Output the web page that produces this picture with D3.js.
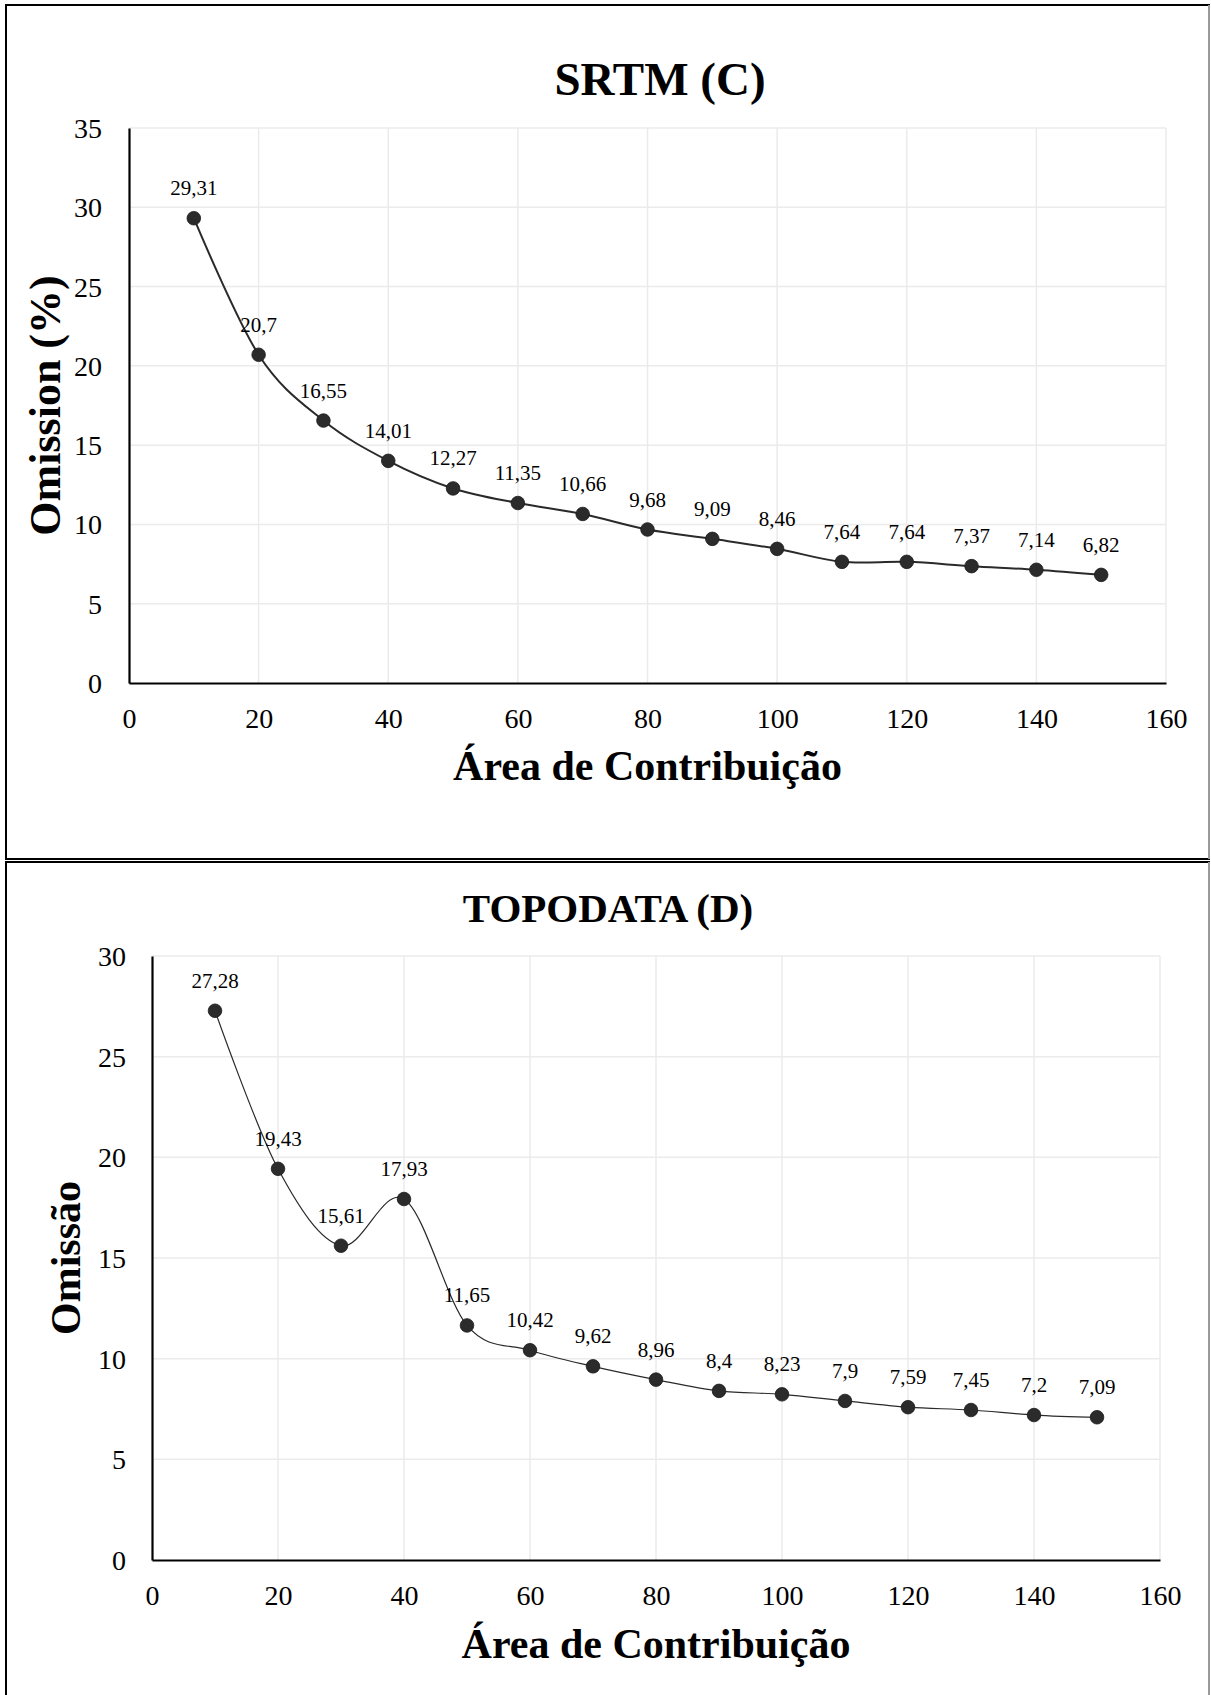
<!DOCTYPE html>
<html>
<head>
<meta charset="utf-8">
<script src="https://cdn.jsdelivr.net/npm/d3@7"></script>
<style>
  html, body { margin: 0; padding: 0; background: #fff; }
  svg { display: block; }
  text { font-family: "Liberation Serif", "Times New Roman", serif; fill: #000; }
</style>
</head>
<body>
<svg id="chart" width="1211" height="1695"></svg>
<script>
// ---- data ----
const areas = [10, 20, 30, 40, 50, 60, 70, 80, 90, 100, 110, 120, 130, 140, 150];
const srtmValues = [29.31, 20.7, 16.55, 14.01, 12.27, 11.35, 10.66, 9.68, 9.09, 8.46, 7.64, 7.64, 7.37, 7.14, 6.82];
const topodataValues = [27.28, 19.43, 15.61, 17.93, 11.65, 10.42, 9.62, 8.96, 8.4, 8.23, 7.9, 7.59, 7.45, 7.2, 7.09];
const xTicks = [0, 20, 40, 60, 80, 100, 120, 140, 160];
const yTicksSrtm = [0, 5, 10, 15, 20, 25, 30, 35];
const yTicksTopo = [0, 5, 10, 15, 20, 25, 30];
const titles = ["SRTM (C)", "TOPODATA (D)"];
const xTitle = "Área de Contribuição";
const yTitles = ["Omission (%)", "Omissão"];

const svg = d3.select("#chart");

// panel frames
function frame(x0, y0, x1, y1) {
  svg.append("rect").attr("x", x0).attr("y", y0).attr("width", x1 - x0).attr("height", y1 - y0)
    .attr("fill", "none").attr("stroke", "#000").attr("stroke-width", 2);
  svg.append("line").attr("x1", x1).attr("x2", x1).attr("y1", y0).attr("y2", y1)
    .attr("stroke", "#9a9a9a").attr("stroke-width", 2);
}
frame(6, 5, 1209, 859);
frame(6, 862, 1209, 1700);

function panel(cfg) {
  const x = d3.scaleLinear().domain([0, 160]).range([cfg.left, cfg.right]);
  const y = d3.scaleLinear().domain([0, cfg.yMax]).range([cfg.bottom, cfg.top]);
  const g = svg.append("g");

  // gridlines
  g.append("g").selectAll("line").data(cfg.yTicks.filter(d => d > 0)).join("line")
    .attr("x1", x(0)).attr("x2", x(160)).attr("y1", d => y(d)).attr("y2", d => y(d))
    .attr("stroke", "#ebebeb").attr("stroke-width", 1.5);
  g.append("g").selectAll("line").data(xTicks.filter(d => d > 0)).join("line")
    .attr("x1", d => x(d)).attr("x2", d => x(d)).attr("y1", y(0)).attr("y2", y(cfg.yMax))
    .attr("stroke", "#ebebeb").attr("stroke-width", 1.5);

  // axes
  const xAxis = g.append("g").attr("transform", `translate(0,${y(0)})`)
    .call(d3.axisBottom(x).tickValues(xTicks).tickSize(0).tickPadding(0).tickFormat(d3.format("d")));
  xAxis.select(".domain").attr("stroke", "#000").attr("stroke-width", 2.2);
  xAxis.selectAll("text").attr("font-size", 28).attr("dy", null).attr("y", 45)
    .style("font-family", '"Liberation Serif", "Times New Roman", serif').attr("fill", "#000");

  const yAxis = g.append("g").attr("transform", `translate(${x(0)},0)`)
    .call(d3.axisLeft(y).tickValues(cfg.yTicks).tickSize(0).tickPadding(cfg.yPad).tickFormat(d3.format("d")));
  yAxis.select(".domain").attr("stroke", "#000").attr("stroke-width", 2.2);
  yAxis.selectAll("text").attr("font-size", 28).attr("dy", "0.34em")
    .style("font-family", '"Liberation Serif", "Times New Roman", serif').attr("fill", "#000");

  // line
  const line = d3.line().x((d, i) => x(areas[i])).y(d => y(d)).curve(d3.curveCardinal.tension(0));
  g.append("path").datum(cfg.values).attr("d", line)
    .attr("fill", "none").attr("stroke", "#2a2a2a").attr("stroke-width", cfg.lineW);

  // markers
  g.append("g").selectAll("circle").data(cfg.values).join("circle")
    .attr("cx", (d, i) => x(areas[i])).attr("cy", d => y(d)).attr("r", 6.8)
    .attr("fill", "#2b2b2b").attr("stroke", "#1a1a1a").attr("stroke-width", 0.8);

  // data labels
  g.append("g").selectAll("text").data(cfg.values).join("text")
    .attr("x", (d, i) => x(areas[i])).attr("y", d => y(d) - 23)
    .attr("text-anchor", "middle").attr("font-size", 21)
    .text(d => String(d).replace(".", ","));

  // titles
  svg.append("text").attr("x", cfg.titleX).attr("y", cfg.titleY).attr("text-anchor", "middle")
    .attr("font-size", cfg.titleSize).attr("font-weight", "bold").text(cfg.title);
  svg.append("text").attr("x", (cfg.left + cfg.right) / 2).attr("y", cfg.xTitleY).attr("text-anchor", "middle")
    .attr("font-size", 42).attr("font-weight", "bold").text(xTitle);
  svg.append("text")
    .attr("transform", `translate(${cfg.yTitleX},${(cfg.top + cfg.bottom) / 2}) rotate(-90)`)
    .attr("text-anchor", "middle").attr("font-size", cfg.yTitleSize).attr("font-weight", "bold").text(cfg.yTitle);
}

panel({
  left: 129, right: 1166, top: 128, bottom: 683, yMax: 35, yTicks: yTicksSrtm, yPad: 27,
  values: srtmValues, lineW: 2, title: titles[0], titleX: 660, titleY: 95, titleSize: 47,
  xTitleY: 780, yTitle: yTitles[0], yTitleX: 60, yTitleSize: 44
});
panel({
  left: 152, right: 1160, top: 956, bottom: 1560, yMax: 30, yTicks: yTicksTopo, yPad: 26,
  values: topodataValues, lineW: 1.2, title: titles[1], titleX: 608, titleY: 922, titleSize: 41,
  xTitleY: 1658, yTitle: yTitles[1], yTitleX: 80, yTitleSize: 42
});
</script>
</body>
</html>
